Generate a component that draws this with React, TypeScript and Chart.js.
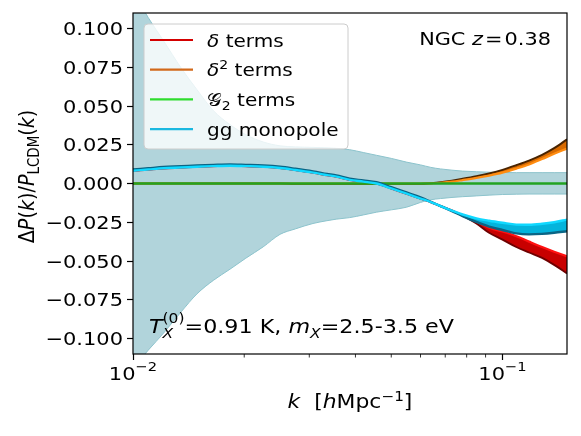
import React, { useEffect, useRef } from 'react';
import { Chart, registerables } from 'chart.js';

Chart.register(...registerables);

const FONT = '"DejaVu Sans", sans-serif';

// ---------- data ----------
const kValues = [0.0100, 0.0110, 0.0121, 0.0135, 0.0149, 0.0165, 0.0183, 0.0202, 0.0225, 0.0250, 0.0275, 0.0307, 0.0335, 0.0355, 0.0386, 0.0420, 0.0456, 0.0500, 0.0550, 0.0600, 0.0640, 0.0680, 0.0730, 0.0780, 0.0850, 0.0920, 0.1000, 0.1090, 0.1180, 0.1280, 0.1380, 0.1495];

const deltaBright = [0.0082, 0.0090, 0.0098, 0.0103, 0.0108, 0.0112, 0.0115, 0.0112, 0.0108, 0.0100, 0.0087, 0.0070, 0.0054, 0.0044, 0.0023, 0.0012, 0.0000, -0.0032, -0.0066, -0.0097, -0.0120, -0.0146, -0.0175, -0.0203, -0.0245, -0.0285, -0.0310, -0.0340, -0.0375, -0.0410, -0.0440, -0.0470];
const deltaDark = [0.0082, 0.0090, 0.0098, 0.0103, 0.0108, 0.0112, 0.0115, 0.0112, 0.0108, 0.0100, 0.0087, 0.0070, 0.0054, 0.0044, 0.0023, 0.0012, 0.0000, -0.0032, -0.0066, -0.0097, -0.0120, -0.0146, -0.0175, -0.0208, -0.0258, -0.0318, -0.0362, -0.0410, -0.0445, -0.0480, -0.0525, -0.0580];

const delta2Dark = [0, 0, 0, 0, 0, 0, 0, 0, 0, 0, -0.0003, -0.0003, -0.0003, -0.0003, -0.0003, -0.0003, -0.0003, -0.0003, -0.0003, -0.0003, 0.0002, 0.0008, 0.0018, 0.0030, 0.0047, 0.0065, 0.0088, 0.0118, 0.0148, 0.0185, 0.0228, 0.0285];
const delta2Bright = [0, 0, 0, 0, 0, 0, 0, 0, 0, 0, 0, 0, 0, 0, 0, 0, 0, 0, 0, 0, 0.0001, 0.0005, 0.0012, 0.0022, 0.0036, 0.0051, 0.0070, 0.0096, 0.0123, 0.0158, 0.0192, 0.0225];

const g2Terms = [0, 0, 0, 0, 0, 0, 0, 0, 0, 0, 0, 0, 0, 0, 0, 0, 0, 0, 0, 0, 0, 0, 0, 0, 0, 0, 0, 0, 0, 0, 0, 0];

const ggDark = [0.0090, 0.0098, 0.0106, 0.0111, 0.0116, 0.0120, 0.0123, 0.0120, 0.0116, 0.0108, 0.0095, 0.0078, 0.0062, 0.0052, 0.0031, 0.0020, 0.0008, -0.0024, -0.0058, -0.0089, -0.0118, -0.0146, -0.0178, -0.0210, -0.0248, -0.0278, -0.0300, -0.0322, -0.0328, -0.0325, -0.0318, -0.0308];
const ggBright = [0.0082, 0.0090, 0.0098, 0.0103, 0.0108, 0.0112, 0.0115, 0.0112, 0.0108, 0.0100, 0.0087, 0.0070, 0.0054, 0.0044, 0.0023, 0.0012, 0.0000, -0.0032, -0.0066, -0.0097, -0.0120, -0.0146, -0.0175, -0.0200, -0.0225, -0.0240, -0.0253, -0.0265, -0.0266, -0.0260, -0.0250, -0.0233];

const bandUpper = [0.1240, 0.1070, 0.0920, 0.0745, 0.0605, 0.0470, 0.0380, 0.0315, 0.0268, 0.0243, 0.0236, 0.0233, 0.0230, 0.0227, 0.0218, 0.0200, 0.0182, 0.0162, 0.0138, 0.0120, 0.0104, 0.0094, 0.0086, 0.0080, 0.0076, 0.0073, 0.0071, 0.0070, 0.0070, 0.0070, 0.0070, 0.0070];
const bandLower = [-0.1190, -0.1075, -0.0965, -0.0828, -0.0712, -0.0625, -0.0553, -0.0482, -0.0409, -0.0328, -0.0293, -0.0258, -0.0240, -0.0230, -0.0220, -0.0203, -0.0185, -0.0170, -0.0153, -0.0122, -0.0105, -0.0097, -0.0090, -0.0085, -0.0080, -0.0075, -0.0071, -0.0069, -0.0068, -0.0068, -0.0068, -0.0068];

const xMajorTicks = [0.01, 0.1];
const xMajorBase = ['10', '10'];
const xMajorExponent = ['−2', '−1'];
const xMinorTicks = [0.02, 0.03, 0.04, 0.05, 0.06, 0.07, 0.08, 0.09];
const yTickValues = [-0.1, -0.075, -0.05, -0.025, 0, 0.025, 0.05, 0.075, 0.1];

const X_MIN = 0.01;
const X_MAX = 0.1495;
const Y_MIN = -0.11;
const Y_MAX = 0.11;

// ---------- styles ----------
const SX = 1.14; // horizontal stretch of the reference text
const BAND_FILL = 'rgb(177,212,219)';
const BAND_EDGE = 'rgb(140,195,204)';
const RED_DARK = '#6e0000';
const RED_BRIGHT = '#ff1010';
const RED_MID = '#c80000';
const OR_DARK = '#4a2400';
const OR_BRIGHT = '#ff8c10';
const OR_MID = '#d86a00';
const GREEN_LINE = '#22a322';
const CY_DARK = '#0b6585';
const CY_BRIGHT = '#10d8ff';
const CY_MID = '#04b4dc';

type Seg = { t: string; it?: boolean; sc?: number; dy?: number; keep?: boolean };

const legendItems: { segs: Seg[]; color: string }[] = [
  { segs: [{ t: 'δ', it: true }, { t: ' terms' }], color: '#d40000' },
  { segs: [{ t: 'δ', it: true }, { t: '2', sc: 0.7, dy: -7 }, { t: ' terms' }], color: '#d2691a' },
  { segs: [{ t: '𝒢' }, { t: '2', sc: 0.7, dy: 4 }, { t: ' terms' }], color: '#2edc2e' },
  { segs: [{ t: 'gg monopole' }], color: '#1ab8e0' },
];

const yTitle: Seg[] = [
  { t: 'Δ' }, { t: 'P', it: true }, { t: '(' }, { t: 'k', it: true }, { t: ')/' },
  { t: 'P', it: true }, { t: 'LCDM', sc: 0.7, dy: 4 }, { t: '(' }, { t: 'k', it: true }, { t: ')' },
];
const xTitle: Seg[] = [
  { t: 'k', it: true }, { t: '  [' }, { t: 'h', it: true }, { t: 'Mpc' }, { t: '−1', sc: 0.7, dy: -7 }, { t: ']' },
];
const topNote: Seg[] = [{ t: 'NGC ' }, { t: 'z', it: true }, { t: '\u200a=\u200a0.38' }];
const bottomNote: Seg[] = [
  { t: 'T', it: true }, { t: 'X', it: true, sc: 0.7, dy: 5, keep: true }, { t: '(0)', sc: 0.7, dy: -10 },
  { t: '=0.91 K, ' }, { t: 'm', it: true }, { t: 'X', it: true, sc: 0.7, dy: 5 }, { t: '=2.5-3.5 eV' },
];

function fontFor(s: Seg, size: number) {
  return `${s.it ? 'italic ' : ''}${(size * (s.sc ?? 1)).toFixed(1)}px ${FONT}`;
}
function richWidth(ctx: CanvasRenderingContext2D, segs: Seg[], size: number) {
  let w = 0;
  for (const s of segs) {
    ctx.font = fontFor(s, size);
    if (!s.keep) w += ctx.measureText(s.t).width;
  }
  return w;
}
function drawRich(ctx: CanvasRenderingContext2D, segs: Seg[], x: number, y: number, size: number, align: 'left' | 'center' | 'right', sx = SX) {
  const w = richWidth(ctx, segs, size) * sx;
  const start = align === 'left' ? x : align === 'right' ? x - w : x - w / 2;
  ctx.save();
  ctx.translate(start, y);
  ctx.scale(sx, 1);
  ctx.textAlign = 'left';
  ctx.textBaseline = 'alphabetic';
  let cx = 0;
  for (const s of segs) {
    ctx.font = fontFor(s, size);
    ctx.fillText(s.t, cx, s.dy ?? 0);
    if (!s.keep) cx += ctx.measureText(s.t).width;
  }
  ctx.restore();
}

const pts = (ys: number[]) => kValues.map((k, i) => ({ x: k, y: ys[i] }));

const overlayPlugin = {
  id: 'overlay',
  afterDraw(chart: any) {
    const ctx: CanvasRenderingContext2D = chart.ctx;
    const a = chart.chartArea;
    const xs = chart.scales.x;
    const ys = chart.scales.y;
    ctx.save();
    ctx.fillStyle = '#000';
    ctx.strokeStyle = '#000';
    // minor x ticks
    ctx.lineWidth = 0.8;
    for (const v of xMinorTicks) {
      const px = xs.getPixelForValue(v);
      ctx.beginPath();
      ctx.moveTo(px, a.bottom);
      ctx.lineTo(px, a.bottom + 3.5);
      ctx.stroke();
    }
    // frame
    ctx.lineWidth = 1.2;
    ctx.strokeRect(a.left, a.top, a.right - a.left, a.bottom - a.top);

    // tick labels
    ctx.fillStyle = '#000';
    const TICK = 18.4;
    for (const v of yTickValues) {
      const py = ys.getPixelForValue(v);
      const s = Math.abs(v).toFixed(3);
      const label = v < -1e-9 ? '−' + s : s;
      drawRich(ctx, [{ t: label }], a.left - 10, py + 6.7, TICK, 'right');
    }
    xMajorTicks.forEach((v, i) => {
      const px = xs.getPixelForValue(v);
      drawRich(ctx, [{ t: xMajorBase[i] }, { t: xMajorExponent[i], sc: 0.7, dy: -8.3 }], px, a.bottom + 25.5, TICK, 'center');
    });

    // legend
    const lx = a.left + 11;
    const ly = a.top + 11;
    const lw = 204;
    const lh = 125;
    const r = 4;
    ctx.beginPath();
    ctx.moveTo(lx + r, ly);
    ctx.lineTo(lx + lw - r, ly);
    ctx.quadraticCurveTo(lx + lw, ly, lx + lw, ly + r);
    ctx.lineTo(lx + lw, ly + lh - r);
    ctx.quadraticCurveTo(lx + lw, ly + lh, lx + lw - r, ly + lh);
    ctx.lineTo(lx + r, ly + lh);
    ctx.quadraticCurveTo(lx, ly + lh, lx, ly + lh - r);
    ctx.lineTo(lx, ly + r);
    ctx.quadraticCurveTo(lx, ly, lx + r, ly);
    ctx.closePath();
    ctx.fillStyle = 'rgba(255,255,255,0.8)';
    ctx.fill();
    ctx.strokeStyle = 'rgba(204,204,204,1)';
    ctx.lineWidth = 1;
    ctx.stroke();
    legendItems.forEach((item, i) => {
      const rowY = ly + 16 + i * 29.7;
      ctx.strokeStyle = item.color;
      ctx.lineWidth = 2.2;
      ctx.beginPath();
      ctx.moveTo(lx + 6, rowY);
      ctx.lineTo(lx + 49, rowY);
      ctx.stroke();
      ctx.fillStyle = '#000';
      drawRich(ctx, item.segs, lx + 63, rowY + 6.5, 17.6, 'left');
    });

    // annotations
    ctx.fillStyle = '#000';
    drawRich(ctx, topNote, a.right - 16, a.top + 32, 18.3, 'right');
    drawRich(ctx, bottomNote, a.left + 16, a.bottom - 21, 19.5, 'left');

    // axis titles
    drawRich(ctx, xTitle, (a.left + a.right) / 2, a.bottom + 54, 19.2, 'center');
    ctx.save();
    ctx.translate(34, (a.top + a.bottom) / 2 - 7);
    ctx.rotate(-Math.PI / 2);
    ctx.scale(1, SX);
    drawRich(ctx, yTitle, 0, 0, 19.2, 'center', 1);
    ctx.restore();

    ctx.restore();
  },
};

export default function App() {
  const ref = useRef<HTMLCanvasElement>(null);
  useEffect(() => {
    const lineBase = { pointRadius: 0, cubicInterpolationMode: 'monotone' as const, clip: 0 };
    const chart = new Chart(ref.current as HTMLCanvasElement, {
      type: 'line',
      data: {
        datasets: [
          { ...lineBase, label: 'band upper', data: pts(bandUpper), borderColor: BAND_EDGE, borderWidth: 1, backgroundColor: BAND_FILL, fill: { target: 1 }, order: 10 },
          { ...lineBase, label: 'band lower', data: pts(bandLower), borderColor: BAND_EDGE, borderWidth: 1, fill: false, order: 9 },
          { ...lineBase, label: 'δ terms (dark)', data: pts(deltaDark), borderColor: RED_DARK, borderWidth: 1.8, backgroundColor: RED_MID, fill: { target: 3 }, order: 8 },
          { ...lineBase, label: 'δ terms', data: pts(deltaBright), borderColor: RED_BRIGHT, borderWidth: 2.2, fill: false, order: 7 },
          { ...lineBase, label: 'δ² terms (dark)', data: pts(delta2Dark), borderColor: OR_DARK, borderWidth: 2, backgroundColor: OR_MID, fill: { target: 5 }, order: 6 },
          { ...lineBase, label: 'δ² terms', data: pts(delta2Bright), borderColor: OR_BRIGHT, borderWidth: 2.2, fill: false, order: 5 },
          { ...lineBase, label: '𝒢₂ terms', data: pts(g2Terms), borderColor: GREEN_LINE, borderWidth: 2.6, fill: false, order: 4 },
          { ...lineBase, label: 'gg monopole (dark)', data: pts(ggDark), borderColor: CY_DARK, borderWidth: 2.4, backgroundColor: CY_MID, fill: { target: 8 }, order: 3 },
          { ...lineBase, label: 'gg monopole', data: pts(ggBright), borderColor: CY_BRIGHT, borderWidth: 2.4, fill: false, order: 2 },
        ],
      },
      options: {
        responsive: false,
        maintainAspectRatio: false,
        devicePixelRatio: 1,
        animation: false,
        layout: { padding: { top: 13, right: 14, left: 0, bottom: 0 } },
        plugins: { legend: { display: false }, tooltip: { enabled: false } },
        scales: {
          x: {
            type: 'logarithmic',
            min: X_MIN,
            max: X_MAX,
            afterBuildTicks: (scale: any) => {
              scale.ticks = [...xMajorTicks, ...xMinorTicks].sort((p, q) => p - q).map((v) => ({ value: v }));
            },
            afterFit: (scale: any) => {
              scale.height = 82;
            },
            ticks: { display: false, autoSkip: false, maxRotation: 0 },
            grid: {
              drawOnChartArea: false,
              drawTicks: true,
              tickLength: 6,
              tickWidth: 1.2,
              tickColor: (c: any) => (c.tick && xMajorTicks.includes(c.tick.value) ? '#000' : 'rgba(0,0,0,0)'),
            },
            border: { display: false },
          },
          y: {
            type: 'linear',
            min: Y_MIN,
            max: Y_MAX,
            afterBuildTicks: (scale: any) => {
              scale.ticks = yTickValues.map((v) => ({ value: v }));
            },
            afterFit: (scale: any) => {
              scale.width = 133;
            },
            ticks: { display: false },
            grid: { drawOnChartArea: false, drawTicks: true, tickLength: 6, tickWidth: 1.2, tickColor: '#000' },
            border: { display: false },
          },
        },
      },
      plugins: [overlayPlugin],
    } as any);
    return () => chart.destroy();
  }, []);
  return (
    <div style={{ position: 'fixed', left: 0, top: 0, width: 581, height: 436, background: '#fff' }}>
      <canvas ref={ref} width={581} height={436} style={{ display: 'block' }} />
    </div>
  );
}
